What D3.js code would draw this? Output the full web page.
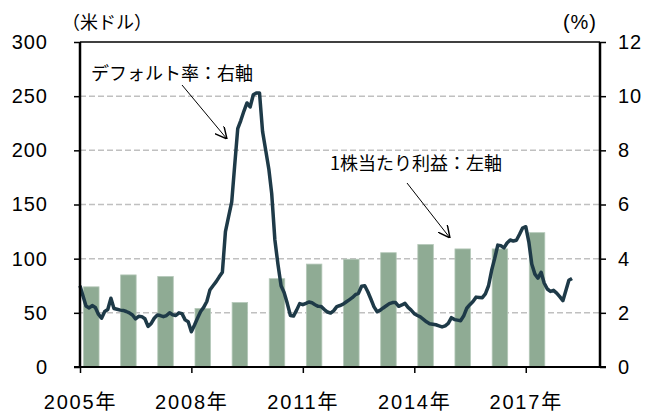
<html>
<head>
<meta charset="utf-8">
<title>1株当たり利益とデフォルト率</title>
<style>
  body { margin: 0; background: #fff; }
  text { font-family: "Liberation Sans", "Noto Sans CJK JP", sans-serif; fill: #000; }
  .jp { font-family: "Noto Sans CJK JP", sans-serif; }
</style>
</head>
<body>
<script src="https://cdn.jsdelivr.net/npm/d3@7"></script>
<script>
    // 1株当たり利益（米ドル、年次、左軸）
    var years = [2005, 2006, 2007, 2008, 2009, 2010, 2011, 2012, 2013, 2014, 2015, 2016, 2017];
    var eps = [74, 85, 83.5, 54, 59.5, 81.5, 95, 99.5, 105.5, 113, 109, 109, 124];

    // デフォルト率（%、月次、右軸） 2005年1月〜2018年4月
    var defaultRate = [
        3.0, 2.6, 2.25, 2.18, 2.27, 2.2, 1.95, 1.8, 2.05, 2.12, 2.54, 2.16,
        2.13, 2.1, 2.09, 2.05, 2.0, 1.92, 1.78, 1.87, 1.86, 1.78, 1.5, 1.6,
        1.8, 1.92, 1.9, 1.86, 1.9, 2.0, 1.93, 1.9, 2.0, 1.97, 1.74, 1.67,
        1.3, 1.55, 1.8, 2.05, 2.2, 2.42, 2.84, 3.0, 3.15, 3.33, 3.5, 5.0,
        5.55, 6.1, 7.4, 8.8, 9.1, 9.45, 9.75, 9.6, 10.05, 10.12, 10.12, 8.7,
        8.0, 7.3, 6.4, 4.7, 3.8, 3.0, 2.75, 2.35, 1.9, 1.88, 2.1, 2.34,
        2.3, 2.35, 2.4, 2.37, 2.3, 2.24, 2.23, 2.12, 2.03, 1.99, 2.08, 2.23,
        2.27, 2.32, 2.4, 2.48, 2.56, 2.67, 2.72, 2.98, 3.0, 2.78, 2.5, 2.22,
        2.04, 2.1, 2.18, 2.26, 2.34, 2.38, 2.38, 2.24, 2.29, 2.35, 2.2, 2.1,
        1.97, 1.9, 1.85, 1.76, 1.67, 1.6, 1.58, 1.56, 1.52, 1.48, 1.52, 1.61,
        1.82, 1.75, 1.73, 1.71, 1.88, 2.17, 2.3, 2.42, 2.58, 2.57, 2.56, 2.7,
        3.0, 3.58, 4.0, 4.5, 4.48, 4.4, 4.58, 4.69, 4.65, 4.68, 4.9, 5.13,
        5.18, 4.6, 3.8, 3.43, 3.28, 3.5, 3.1, 2.88, 2.79, 2.83, 2.73, 2.6,
        2.45, 2.84, 3.2, 3.27
    ];

    var leftTicks = [0, 50, 100, 150, 200, 250, 300];
    var rightTicks = [0, 2, 4, 6, 8, 10, 12];
    var xTickYears = [2005, 2008, 2011, 2014, 2017];

    var width = 661, height = 416;
    var pLeft = 80, pRight = 600, pTop = 42, pBottom = 367;

    var svg = d3.select("body")
        .append("svg")
        .attr("width", width)
        .attr("height", height);

    var x = d3.scaleTime()
        .domain([new Date(2005, 0, 1), new Date(2019, 0, 1)])
        .range([pLeft, pRight]);
    var yL = d3.scaleLinear().domain([0, 300]).range([pBottom, pTop]);
    var yR = d3.scaleLinear().domain([0, 12]).range([pBottom, pTop]);

    // 補助線（破線）
    svg.append("g")
        .selectAll("line")
        .data(leftTicks.filter(function (d) { return d > 0 && d < 300; }))
        .enter()
        .append("line")
        .attr("x1", pLeft).attr("x2", pRight)
        .attr("y1", function (d) { return yL(d); })
        .attr("y2", function (d) { return yL(d); })
        .attr("stroke", "#c0c0c0")
        .attr("stroke-width", 1.5)
        .attr("stroke-dasharray", "6,3");

    // 棒（1株当たり利益）
    var barW = 15.5;
    svg.append("g")
        .selectAll("rect")
        .data(years)
        .enter()
        .append("rect")
        .attr("x", function (d) { return x(new Date(d, 3, 22)) - barW / 2; })
        .attr("y", function (d, i) { return yL(eps[i]); })
        .attr("width", barW)
        .attr("height", function (d, i) { return pBottom - yL(eps[i]); })
        .attr("fill", "#8fab94")
        .attr("stroke", "#b4c8b8")
        .attr("stroke-width", 0.8);

    // 折れ線（デフォルト率）
    var line = d3.line()
        .x(function (d, i) { return x(new Date(2005, i, 1)); })
        .y(function (d) { return yR(d); });
    svg.append("path")
        .datum(defaultRate)
        .attr("d", line)
        .attr("fill", "none")
        .attr("stroke", "#1e3a48")
        .attr("stroke-width", 3.5)
        .attr("stroke-linejoin", "round");

    // 軸
    var axisL = d3.axisLeft(yL).tickValues(leftTicks).tickSize(6).tickPadding(26);
    var axisR = d3.axisRight(yR).tickValues(rightTicks).tickSize(6).tickPadding(12);
    var axisB = d3.axisBottom(x)
        .tickValues(xTickYears.map(function (d) { return new Date(d, 0, 1); }))
        .tickSize(6).tickPadding(22)
        .tickFormat(function (d) { return d.getFullYear() + "年"; });

    var gL = svg.append("g").attr("transform", "translate(" + pLeft + ",0)").call(axisL);
    var gR = svg.append("g").attr("transform", "translate(" + pRight + ",0)").call(axisR);
    var gB = svg.append("g").attr("transform", "translate(0," + pBottom + ")").call(axisB);

    [gL, gR, gB].forEach(function (g) {
        g.select(".domain").remove();
        g.selectAll(".tick line").attr("stroke", "#000").attr("stroke-width", 1.5);
        g.selectAll("text").attr("font-size", 20).attr("letter-spacing", 1).attr("fill", "#000");
    });
    gB.selectAll("text").attr("letter-spacing", 1.8);

    // 枠
    svg.append("line").attr("x1", pLeft).attr("x2", pRight).attr("y1", pTop).attr("y2", pTop)
        .attr("stroke", "#000").attr("stroke-width", 1.5);
    svg.append("line").attr("x1", pLeft).attr("x2", pLeft).attr("y1", pTop).attr("y2", pBottom)
        .attr("stroke", "#000").attr("stroke-width", 2.5);
    svg.append("line").attr("x1", pRight).attr("x2", pRight).attr("y1", pTop).attr("y2", pBottom)
        .attr("stroke", "#000").attr("stroke-width", 2.5);
    svg.append("line").attr("x1", pLeft - 6).attr("x2", pRight + 6).attr("y1", pBottom).attr("y2", pBottom)
        .attr("stroke", "#000").attr("stroke-width", 2);

    // 単位
    svg.append("text").attr("class", "jp").attr("x", 62).attr("y", 29).attr("font-size", 18).text("（米ドル）");
    svg.append("text").attr("x", 597).attr("y", 29).attr("font-size", 20)
        .attr("text-anchor", "end").attr("letter-spacing", 1).text("(%)");

    // 注記
    svg.append("defs").append("marker")
        .attr("id", "arrow")
        .attr("viewBox", "0 0 10 10")
        .attr("refX", 10).attr("refY", 5)
        .attr("markerWidth", 12).attr("markerHeight", 12)
        .attr("markerUnits", "userSpaceOnUse")
        .attr("orient", "auto")
        .append("path")
        .attr("d", "M0,0 L10,5 L0,10")
        .attr("fill", "none")
        .attr("stroke", "#000")
        .attr("stroke-width", 1.2);

    svg.append("text").attr("class", "jp").attr("x", 91).attr("y", 80).attr("font-size", 18).text("デフォルト率：右軸");
    svg.append("line").attr("x1", 182).attr("y1", 85).attr("x2", 227).attr("y2", 139)
        .attr("stroke", "#000").attr("stroke-width", 1).attr("marker-end", "url(#arrow)");

    svg.append("text").attr("class", "jp").attr("x", 330).attr("y", 170).attr("font-size", 18).text("1株当たり利益：左軸");
    svg.append("line").attr("x1", 407).attr("y1", 183).attr("x2", 450).attr("y2", 238)
        .attr("stroke", "#000").attr("stroke-width", 1).attr("marker-end", "url(#arrow)");
</script>
</body>
</html>
